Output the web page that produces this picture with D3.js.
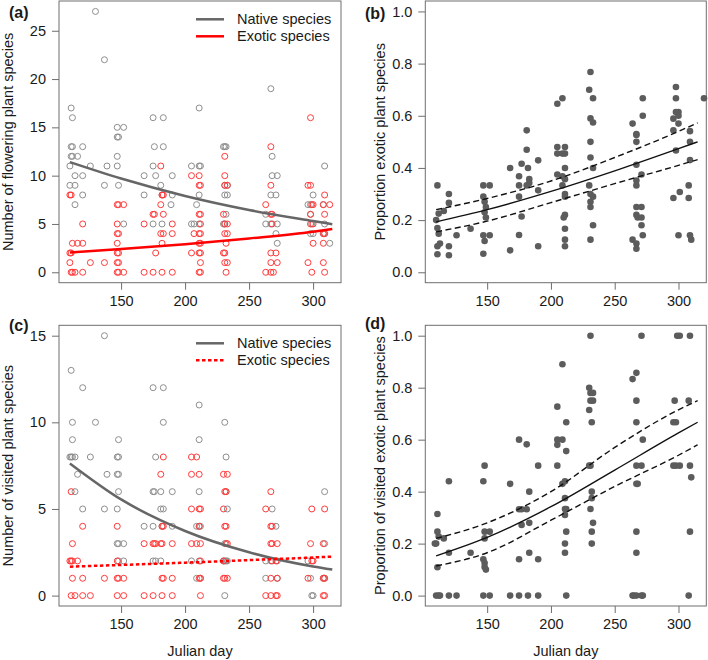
<!DOCTYPE html>
<html><head><meta charset="utf-8">
<script src="https://cdn.jsdelivr.net/npm/d3@7"></script>
<style>body{margin:0;background:#fff} text{font-family:"Liberation Sans",Arial,Helvetica,sans-serif;fill:#1a1a1a}</style>
</head><body><svg id="c" width="708" height="660"></svg>
<script>
// ---------------- DATA ----------------
const xTicks = [150, 200, 250, 300];
const yTicksA = [0, 5, 10, 15, 20, 25];
const yTicksC = [0, 5, 10, 15];
const yTicksProp = [0, 0.2, 0.4, 0.6, 0.8, 1.0];
const seriesNames = ["Native species", "Exotic species"];

// (a) number of flowering species: [julian day, count]
const flowerNative = [[110,11],[111,17],[112,16],[111,13],[112,13],[111,12],[112,12],[114,10],[110,9],[114,9],[114,7],
 [116,12],[120,13],[120,10],[120,8],[126,11],[130,27],[137,22],[137,9],[139,11],
 [147,15],[147,14],[148,14],[147,12],[147,11],[148,9],[152,15],[152,5],
 [168,10],[168,8],[175,16],[176,13],[175,11],[177,10],[175,5],
 [183,16],[183,13],[181,9],[182,8],[182,5],[190,10],[190,8],[189,7],
 [205,11],[209,7],[205,5],[207,5],[211,17],[211,11],[212,11],[211,8],[211,5],
 [230,13],[231,13],[232,13],[231,9],[233,9],[231,8],[233,8],[232,6],[230,5],[231,5],
 [267,19],[268,12],[268,10],[272,10],[267,8],[271,8],[263,5],[267,5],[263,6],[272,5],[271,4],[272,3],
 [300,8],[296,7],[298,7],[298,6],[299,5],[298,4],[300,4],
 [308,7],[309,11],[309,5],[308,4],[309,4],[313,3]];
const flowerExotic = [[110,8],[111,8],[110,2],[111,2],[110,1],[111,0],[112,0],[114,0],[112,3],
 [116,3],[120,3],[120,5],[120,0],[126,1],[137,1],
 [147,7],[148,7],[147,5],[147,4],[148,4],[147,3],[147,2],[148,2],[147,1],[148,1],[147,0],[148,0],[152,7],[152,0],
 [168,5],[168,0],[175,6],[176,6],[177,2],[175,0],
 [181,11],[182,8],[183,8],[181,7],[183,6],[181,4],[183,4],[182,3],[182,0],
 [190,5],[190,4],[190,0],
 [205,10],[207,4],[205,2],
 [211,10],[211,9],[212,9],[211,6],[212,6],[212,5],[211,4],[212,4],[211,3],[212,3],[211,2],[212,2],[212,1],[211,0],[212,0],
 [231,12],[231,10],[231,9],[233,9],[230,6],[231,5],[233,5],[231,4],[233,4],[232,3],[230,2],[231,2],[231,1],[233,1],[232,0],
 [267,13],[267,9],[263,7],[267,6],[268,6],[268,5],[267,2],[271,2],[267,1],[272,1],[263,0],[267,0],[269,0],
 [298,16],[296,9],[298,9],[299,7],[300,7],[298,6],[298,5],[300,5],[300,3],[296,1],[299,0],
 [309,8],[308,7],[309,6],[308,4],[309,4],[308,3],[308,1],[309,0],[313,7]];

// (c) number of visited species
const visitNative = [[111,13],[112,10],[112,9],[110,8],[111,8],[112,8],[114,8],[116,7],[114,6],[120,5],[120,12],[126,8],[130,10],[137,15],[139,7],[137,5],
 [148,9],[147,8],[148,8],[147,7],[148,7],[148,6],[147,5],[147,3],[148,3],[148,2],[152,3],[152,2],
 [168,4],[175,12],[177,8],[175,6],[176,6],[175,4],[175,2],[177,2],
 [183,12],[183,10],[181,6],[181,5],[183,5],[182,4],[181,2],[190,6],[190,4],
 [211,11],[211,9],[211,6],[209,4],[211,4],[212,4],[205,2],[211,2],[209,1],[212,1],
 [231,10],[232,8],[232,6],[233,5],[231,3],[230,2],[231,2],[232,2],[233,2],[231,0],
 [268,5],[263,2],[263,1],[267,2],[271,4],[272,2],[272,1],
 [299,0],[300,0],[296,2],[298,1],
 [309,6],[309,3],[308,1],[309,1]];
const visitExotic = [[111,6],[112,3],[110,2],[111,2],[112,2],[116,2],[112,1],[111,0],[114,0],[120,4],[120,1],[120,0],[126,0],[137,1],
 [147,4],[147,2],[147,1],[148,1],[147,0],[152,1],[152,0],
 [168,3],[168,0],[175,3],[176,3],[177,3],[175,0],
 [183,8],[181,7],[182,4],[183,4],[181,3],[182,3],[182,1],[183,1],[182,0],[190,3],[190,1],[190,0],
 [205,8],[209,8],[205,7],[211,7],[205,5],[211,5],[212,5],[205,3],[209,3],[212,3],[211,4],[212,2],[211,1],[212,1],[212,0],
 [230,7],[233,7],[231,6],[232,6],[230,5],[231,4],[232,4],[232,3],[233,3],[230,2],[230,1],[231,1],[233,1],
 [267,6],[263,5],[267,4],[268,4],[267,3],[268,3],[272,3],[268,2],[271,2],[267,1],[272,1],[263,0],[267,0],[271,0],[272,0],
 [299,5],[298,3],[299,2],[300,2],[296,1],
 [309,5],[308,3],[308,1],[309,1],[308,0],[309,0]];

// (b) proportion of exotic flowering species
const propExotic = [[111,0.333],[112,0.225],[110,0.2],[111,0.17],[112,0.148],[111,0.1],[113,0.11],[111,0.069],[116,0.235],[120,0.3],[120,0.266],[120,0.1],[120,0.065],[126,0.142],[137,0.167],
 [147,0.333],[152,0.333],[147,0.29],[148,0.27],[149,0.25],[148,0.23],[149,0.21],[147,0.142],[152,0.142],[148,0.12],[147,0.071],
 [168,0.4],[168,0.084],
 [175,0.368],[177,0.416],[175,0.333],[175,0.29],[177,0.214],[175,0.143],
 [181,0.544],[181,0.47],[182,0.4],[183,0.357],[183,0.342],[181,0.333],
 [190,0.429],[190,0.314],[190,0.1],
 [205,0.646],[209,0.667],[205,0.48],[205,0.455],[205,0.375],
 [211,0.48],[211,0.455],[209,0.455],[211,0.4],[209,0.368],[211,0.357],[209,0.333],[211,0.3],[211,0.29],[211,0.22],[210,0.21],[211,0.167],[211,0.125],[211,0.1],
 [231,0.768],[230,0.7],[233,0.667],[231,0.59],[233,0.574],[231,0.5],[231,0.44],[233,0.4],[230,0.333],[231,0.3],[233,0.29],[231,0.27],[231,0.25],[233,0.18],[231,0.125],
 [272,0.667],[272,0.6],[264,0.57],[267,0.53],[267,0.526],[267,0.5],[267,0.412],[267,0.352],[267,0.333],[271,0.375],[267,0.25],[271,0.25],[267,0.22],[268,0.21],[271,0.21],[271,0.18],[272,0.142],[264,0.125],[267,0.11],[267,0.09],
 [298,0.71],[298,0.667],[300,0.614],[298,0.614],[296,0.589],[300,0.6],[300,0.57],[296,0.544],[298,0.467],[296,0.285],[301,0.308],[300,0.142],
 [309,0.541],[309,0.5],[309,0.43],[308,0.333],[308,0.285],[309,0.142],[310,0.125],
 [320,0.667]];

// (d) proportion of visited exotic species
const propVisited = [[111,0.314],[111,0.246],[112,0.227],[110,0.2],[109,0.2],[116,0.22],[111,0.109],[110,0],[112,0],[113,0],
 [120,0.44],[120,0.165],[120,0],[126,0],[137,0.165],
 [148,0.5],[147,0.44],[148,0.246],[152,0.246],[148,0.22],[147,0.14],[148,0.125],[148,0.11],[149,0.1],[147,0],[152,0],
 [168,0.43],[168,0],
 [175,0.6],[181,0.582],[175,0.332],[177,0.332],[177,0.272],[183,0.4],[181,0.332],[183,0.28],[183,0.165],[175,0.14],[175,0],[182,0],[190,0.5],[190,0.14],[190,0],
 [205,0.727],[205,0.6],[205,0.58],[209,0.6],[205,0.5],[209,0.89],[212,0.667],[212,0.556],[209,0.43],[211,0.44],[211,0.375],[211,0.333],[212,0.333],[211,0.31],[212,0.246],[211,0.2],[211,0.165],[212,0],
 [231,1.0],[230,0.8],[231,0.78],[233,0.78],[231,0.75],[233,0.75],[230,0.714],[232,0.667],[231,0.5],[230,0.5],[232,0.4],[232,0.375],[231,0.333],[233,0.28],[232,0.246],[232,0.2],
 [264,0.833],[267,0.857],[267,0.75],[267,0.667],[271,1.0],[272,0.6],[267,0.5],[271,0.5],[267,0.43],[268,0.43],[267,0.246],[267,0.165],[264,0],[265,0],[267,0],[271,0],[272,0],
 [297,0.75],[296,0.667],[298,0.667],[296,0.5],[298,0.5],[301,0.5],[299,1.0],[301,1.0],
 [309,1.0],[308,0.75],[309,0.5],[310,0.455],[308,0],[309,0.246]];

// fitted model curves
const fitDays = [110, 150, 200, 250, 300, 315];
const fitFlowerNative = [11.4, 9.7, 7.9, 6.45, 5.3, 4.97];
const fitFlowerExotic = [2.05, 2.4, 2.9, 3.5, 4.2, 4.48];
const fitVisitNative = [7.63, 5.55, 3.73, 2.5, 1.68, 1.5];
const fitVisitExotic = [1.67, 1.77, 1.9, 2.05, 2.2, 2.25];
const fitPropExotic = [0.193, 0.24, 0.31, 0.389, 0.474, 0.5];
const fitPropExoticHi = [0.24, 0.283, 0.35, 0.44, 0.54, 0.573];
const fitPropExoticLo = [0.155, 0.196, 0.267, 0.34, 0.41, 0.432];
const fitPropVisited = [0.153, 0.224, 0.342, 0.483, 0.626, 0.667];
const fitPropVisitedHi = [0.22, 0.28, 0.40, 0.57, 0.715, 0.75];
const fitPropVisitedLo = [0.114, 0.165, 0.29, 0.42, 0.54, 0.58];

// ---------------- DRAW ----------------
const svg = d3.select("#c");
const xDomain = [101.5, 321.8];
const FS = 14.5;
const GRAY_PT = "#8e8e8e", RED_PT = "#ff3a3a", NATIVE_LINE = "#666666", BOX = "#6e6e6e";

function panel(o) {
  const x = d3.scaleLinear().domain(xDomain).range([o.left, o.right]);
  const y = d3.scaleLinear().domain(o.yDomain).range([o.bottom, o.top]);
  const g = svg.append("g");
  const xa = d3.axisBottom(x).tickValues(xTicks).tickSize(7).tickSizeOuter(0).tickPadding(6);
  const gx = g.append("g").attr("transform", `translate(0,${o.bottom})`).call(xa);
  const ya = d3.axisLeft(y).tickValues(o.yTicks).tickSize(7).tickSizeOuter(0).tickPadding(6)
    .tickFormat(o.yFmt || d3.format("d"));
  const gy = g.append("g").attr("transform", `translate(${o.left},0)`).call(ya);
  [gx, gy].forEach(a => {
    a.select(".domain").remove();
    a.selectAll(".tick line").attr("stroke", BOX);
    a.selectAll(".tick text").attr("font-size", FS).attr("fill", "#1a1a1a")
      .attr("font-family", '"Liberation Sans",Arial,sans-serif');
  });
  g.append("rect").attr("x", o.left).attr("y", o.top)
    .attr("width", o.right - o.left).attr("height", o.bottom - o.top)
    .attr("fill", "none").attr("stroke", BOX).attr("stroke-width", 1);
  // y label
  g.append("text").attr("transform", `translate(${o.ylabX},${(o.top + o.bottom) / 2}) rotate(-90)`)
    .attr("text-anchor", "middle").attr("font-size", FS).text(o.ylab);
  if (o.xlab) g.append("text").attr("x", (o.left + o.right) / 2).attr("y", o.bottom + 50)
    .attr("text-anchor", "middle").attr("font-size", FS).text(o.xlab);
  g.append("text").attr("x", o.tagX).attr("y", o.tagY).attr("font-size", 16)
    .attr("font-weight", "bold").text(o.tag);
  return { g, x, y };
}

function openPoints(p, data, color) {
  p.g.append("g").selectAll("circle").data(data).join("circle")
    .attr("cx", d => p.x(d[0])).attr("cy", d => p.y(d[1])).attr("r", 3)
    .attr("fill", "none").attr("stroke", color).attr("stroke-width", 1);
}
function filledPoints(p, data) {
  p.g.append("g").selectAll("circle").data(data).join("circle")
    .attr("cx", d => p.x(d[0])).attr("cy", d => p.y(d[1])).attr("r", 3.3)
    .attr("fill", "#5c5c5c");
}
function curve(p, vals, color, width, dash) {
  const line = d3.line().x((d, i) => p.x(fitDays[i])).y(d => p.y(d)).curve(d3.curveMonotoneX);
  const path = p.g.append("path").attr("d", line(vals)).attr("fill", "none")
    .attr("stroke", color).attr("stroke-width", width);
  if (dash) path.attr("stroke-dasharray", dash);
}
function legend(p, lx, ly, dashExotic) {
  const items = [
    { name: seriesNames[0], color: NATIVE_LINE, dash: null },
    { name: seriesNames[1], color: "#ff0000", dash: dashExotic }
  ];
  items.forEach((it, i) => {
    const yy = ly + i * 17;
    const l = p.g.append("line").attr("x1", lx).attr("x2", lx + 28).attr("y1", yy).attr("y2", yy)
      .attr("stroke", it.color).attr("stroke-width", 2.5);
    if (it.dash) l.attr("stroke-dasharray", it.dash);
    p.g.append("text").attr("x", lx + 41).attr("y", yy + 5).attr("font-size", FS).text(it.name);
  });
}

// (a)
const pa = panel({ left: 59, right: 341, top: 1, bottom: 282.7, yDomain: [-1.08, 28.08], yTicks: yTicksA,
  ylab: "Number of flowering plant species", ylabX: 13, tag: "(a)", tagX: 9, tagY: 18 });
openPoints(pa, flowerNative, GRAY_PT);
openPoints(pa, flowerExotic, RED_PT);
curve(pa, fitFlowerNative, NATIVE_LINE, 2.5);
curve(pa, fitFlowerExotic, "#ff0000", 2.5);
legend(pa, 196, 19.3, null);

// (b)
const fmt1 = d3.format(".1f");
const pb = panel({ left: 425.3, right: 706.3, top: 1, bottom: 282.7, yDomain: [-0.04, 1.04], yTicks: yTicksProp, yFmt: fmt1,
  ylab: "Proportion exotic plant species", ylabX: 384.5, tag: "(b)", tagX: 365, tagY: 19 });
filledPoints(pb, propExotic);
curve(pb, fitPropExotic, "#111", 1.4);
curve(pb, fitPropExoticHi, "#111", 1.4, "6,3.5");
curve(pb, fitPropExoticLo, "#111", 1.4, "6,3.5");

// (c)
const pc = panel({ left: 59, right: 341, top: 325.3, bottom: 606, yDomain: [-0.6, 15.6], yTicks: yTicksC,
  ylab: "Number of visited plant species", ylabX: 13, tag: "(c)", tagX: 9, tagY: 331, xlab: "Julian day" });
openPoints(pc, visitNative, GRAY_PT);
openPoints(pc, visitExotic, RED_PT);
curve(pc, fitVisitNative, NATIVE_LINE, 2.5);
curve(pc, fitVisitExotic, "#ff0000", 2.5, "3.5,2.5");
legend(pc, 196, 343.3, "3.5,2.5");

// (d)
const pd = panel({ left: 425.3, right: 706.3, top: 325.3, bottom: 606, yDomain: [-0.04, 1.04], yTicks: yTicksProp, yFmt: fmt1,
  ylab: "Proportion of visited exotic plant species", ylabX: 384.5, tag: "(d)", tagX: 365, tagY: 329, xlab: "Julian day" });
filledPoints(pd, propVisited);
curve(pd, fitPropVisited, "#111", 1.4);
curve(pd, fitPropVisitedHi, "#111", 1.4, "6,3.5");
curve(pd, fitPropVisitedLo, "#111", 1.4, "6,3.5");
</script></body></html>
